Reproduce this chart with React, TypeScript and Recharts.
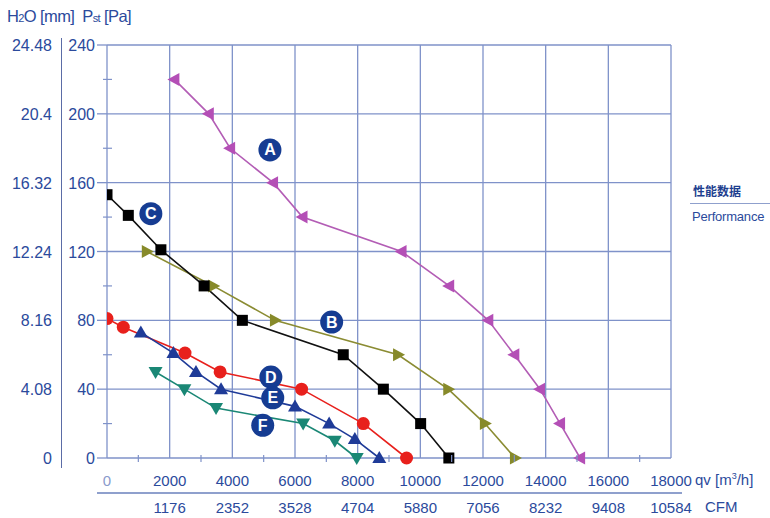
import React from 'react';
import { LineChart, Line, XAxis, YAxis, CartesianGrid, ReferenceDot } from 'recharts';

// fan curves, qv [m3/h] vs Pst [Pa]
const curveA = [
  { x: 2150, y: 220 }, { x: 3250, y: 200 }, { x: 3930, y: 180 }, { x: 5300, y: 160 },
  { x: 6240, y: 140 }, { x: 9400, y: 120 }, { x: 10920, y: 100 }, { x: 12170, y: 80 },
  { x: 13000, y: 60 }, { x: 13820, y: 40 }, { x: 14460, y: 20 }, { x: 15100, y: 0 },
];
const curveB = [
  { x: 1270, y: 120 }, { x: 3390, y: 100 }, { x: 5360, y: 80 }, { x: 9290, y: 60 },
  { x: 10890, y: 40 }, { x: 12060, y: 20 }, { x: 13020, y: 0 },
];
const curveC = [
  { x: 0, y: 153 }, { x: 680, y: 141 }, { x: 1720, y: 121 }, { x: 3100, y: 100 },
  { x: 4320, y: 80 }, { x: 7540, y: 60 }, { x: 8820, y: 40 }, { x: 10010, y: 20 }, { x: 10910, y: 0 },
];
const curveD = [
  { x: 0, y: 81 }, { x: 520, y: 76 }, { x: 2490, y: 61 }, { x: 3610, y: 50 },
  { x: 6210, y: 40 }, { x: 8180, y: 20 }, { x: 9560, y: 0 },
];
const curveE = [
  { x: 1080, y: 73 }, { x: 2120, y: 61 }, { x: 2840, y: 50 }, { x: 3640, y: 40 },
  { x: 6000, y: 30 }, { x: 7090, y: 20 }, { x: 7910, y: 11 }, { x: 8690, y: 0 },
];
const curveF = [
  { x: 1550, y: 50 }, { x: 2470, y: 40 }, { x: 3480, y: 29 }, { x: 6260, y: 20 },
  { x: 7270, y: 10 }, { x: 7970, y: 0 },
];

const badges = [
  { id: 'A', x: 5200, y: 179 },
  { id: 'B', x: 7170, y: 79 },
  { id: 'C', x: 1400, y: 142 },
  { id: 'D', x: 5230, y: 47 },
  { id: 'E', x: 5290, y: 35 },
  { id: 'F', x: 4970, y: 19 },
];

const qvTicks = [0, 1000, 2000, 3000, 4000, 5000, 6000, 7000, 8000, 9000, 10000, 11000, 12000, 13000, 14000, 15000, 16000, 17000, 18000];
const qvMajor = [0, 2000, 4000, 6000, 8000, 10000, 12000, 14000, 16000, 18000];
const cfmLabels = ['', '1176', '2352', '3528', '4704', '5880', '7056', '8232', '9408', '10584'];
const paTicks = [0, 20, 40, 60, 80, 100, 120, 140, 160, 180, 200, 220, 240];
const paMajor = [0, 40, 80, 120, 160, 200, 240];
const h2oLabels = ['0', '4.08', '8.16', '12.24', '16.32', '20.4', '24.48'];

const GRID = '#7f92c9';
const TEXT = '#2b4a9c';
const FONT = '"Liberation Sans", Arial, sans-serif';

const PaTick = (props: any) => {
  const { x, y, payload } = props;
  const v = payload.value;
  const i = paMajor.indexOf(v);
  if (i < 0) {
    return <line x1={x - 4} x2={x + 5} y1={y} y2={y} stroke={GRID} strokeWidth={1.2} />;
  }
  return (
    <g>
      <line x1={x - 10} x2={x} y1={y} y2={y} stroke={GRID} strokeWidth={1.3} />
      <text x={x - 12} y={y + 6} textAnchor="end" fontSize={16} fill={TEXT} fontFamily={FONT}>{v}</text>
      <text x={x - 55} y={y + 6} textAnchor="end" fontSize={16} fill={TEXT} fontFamily={FONT}>{h2oLabels[i]}</text>
    </g>
  );
};

const QvTick = (props: any) => {
  const { x, y, payload } = props;
  const v = payload.value;
  const i = qvMajor.indexOf(v);
  if (i < 0) {
    return <line x1={x} x2={x} y1={y - 3} y2={y + 4} stroke={GRID} strokeWidth={1.2} />;
  }
  return (
    <g>
      <text x={x} y={y + 28} textAnchor="middle" fontSize={15} fill={v === 0 ? '#8a9bcc' : TEXT} fontFamily={FONT}>{v}</text>
      <text x={x} y={y + 55} textAnchor="middle" fontSize={15} fill={TEXT} fontFamily={FONT}>{cfmLabels[i]}</text>
    </g>
  );
};

const triDot = (dir: 'left' | 'right' | 'up' | 'down', color: string) => (props: any) => {
  const { cx, cy, index } = props;
  if (cx == null || cy == null) return <g key={index} />;
  let pts = '';
  if (dir === 'left') pts = `${cx - 7},${cy} ${cx + 5},${cy - 6.5} ${cx + 5},${cy + 6.5}`;
  if (dir === 'right') pts = `${cx + 7},${cy} ${cx - 5},${cy - 6.5} ${cx - 5},${cy + 6.5}`;
  if (dir === 'up') pts = `${cx},${cy - 7} ${cx - 7},${cy + 5} ${cx + 7},${cy + 5}`;
  if (dir === 'down') pts = `${cx},${cy + 7} ${cx - 7},${cy - 5} ${cx + 7},${cy - 5}`;
  return <polygon key={index} points={pts} fill={color} />;
};

const squareDot = (props: any) => {
  const { cx, cy, index } = props;
  return <rect key={index} x={cx - 5.5} y={cy - 5.5} width={11} height={11} fill="#000" />;
};

const circleDot = (props: any) => {
  const { cx, cy, index } = props;
  return <circle key={index} cx={cx} cy={cy} r={6.5} fill="#e8201c" />;
};

const Badge = (id: string) => (props: any) => (
  <g>
    <circle cx={props.cx} cy={props.cy} r={11.5} fill="#163c92" />
    <text x={props.cx} y={props.cy + 5.5} textAnchor="middle" fontSize={16} fontWeight={700} fill="#fff" fontFamily={FONT}>{id}</text>
  </g>
);

export default function App() {
  return (
    <div style={{ position: 'absolute', left: 0, top: 0, width: 770, height: 518, overflow: 'hidden', background: '#fff', fontFamily: FONT }}>
      <LineChart width={770} height={518} margin={{ top: 45, right: 99, bottom: 0, left: 0 }}>
        <CartesianGrid stroke={GRID} strokeWidth={1.3} horizontalValues={paMajor} verticalValues={qvMajor} />
        <XAxis type="number" dataKey="x" domain={[0, 18000]} ticks={qvTicks} interval={0} height={60}
          axisLine={false} tickLine={false} tickSize={0} tickMargin={0} tick={QvTick} allowDataOverflow />
        <YAxis type="number" domain={[0, 240]} ticks={paTicks} interval={0} width={107}
          axisLine={false} tickLine={false} tickSize={0} tickMargin={0} tick={PaTick} />
        <Line data={curveA} dataKey="y" stroke="#b35db5" strokeWidth={1.6} dot={triDot('left', '#b44fb6')} isAnimationActive={false} />
        <Line data={curveB} dataKey="y" stroke="#8b8c33" strokeWidth={1.6} dot={triDot('right', '#878a2a')} isAnimationActive={false} />
        <Line data={curveC} dataKey="y" stroke="#111" strokeWidth={1.6} dot={squareDot} isAnimationActive={false} />
        <Line data={curveD} dataKey="y" stroke="#e8201c" strokeWidth={1.6} dot={circleDot} isAnimationActive={false} />
        <Line data={curveE} dataKey="y" stroke="#1f3b98" strokeWidth={1.6} dot={triDot('up', '#1f3b98')} isAnimationActive={false} />
        <Line data={curveF} dataKey="y" stroke="#1a8775" strokeWidth={1.6} dot={triDot('down', '#1a8775')} isAnimationActive={false} />
        {badges.map((b) => (
          <ReferenceDot key={b.id} x={b.x} y={b.y} r={11.5} shape={Badge(b.id)} ifOverflow="visible" />
        ))}
      </LineChart>
      <div style={{ position: 'absolute', left: 7, top: 7, fontSize: 16.5, letterSpacing: -0.6, color: TEXT, whiteSpace: 'nowrap' }}>
        H<span style={{ fontSize: 11 }}>2</span>O [mm]&nbsp; P<span style={{ fontSize: 11 }}>st</span> [Pa]
      </div>
      <div style={{ position: 'absolute', left: 61, top: 38, width: 1, height: 430, background: '#5b6ca6' }} />
      <div style={{ position: 'absolute', left: 97, top: 492, width: 585, height: 1.5, background: '#8fa0cd' }} />
      <div style={{ position: 'absolute', left: 695, top: 471, fontSize: 15, color: TEXT, whiteSpace: 'nowrap' }}>
        qv [m<sup style={{ fontSize: 9 }}>3</sup>/h]
      </div>
      <div style={{ position: 'absolute', left: 705, top: 498, fontSize: 15, color: TEXT }}>CFM</div>
      <div style={{ position: 'absolute', left: 693, top: 182, fontSize: 12, fontWeight: 700, color: '#1e3f8f', fontFamily: '"Noto Sans CJK SC", sans-serif', whiteSpace: 'nowrap' }}>性能数据</div>
      <div style={{ position: 'absolute', left: 690, top: 203, width: 80, height: 1, background: '#8fa0cd' }} />
      <div style={{ position: 'absolute', left: 692, top: 209, fontSize: 13, letterSpacing: -0.2, color: TEXT, whiteSpace: 'nowrap' }}>Performance</div>
    </div>
  );
}
